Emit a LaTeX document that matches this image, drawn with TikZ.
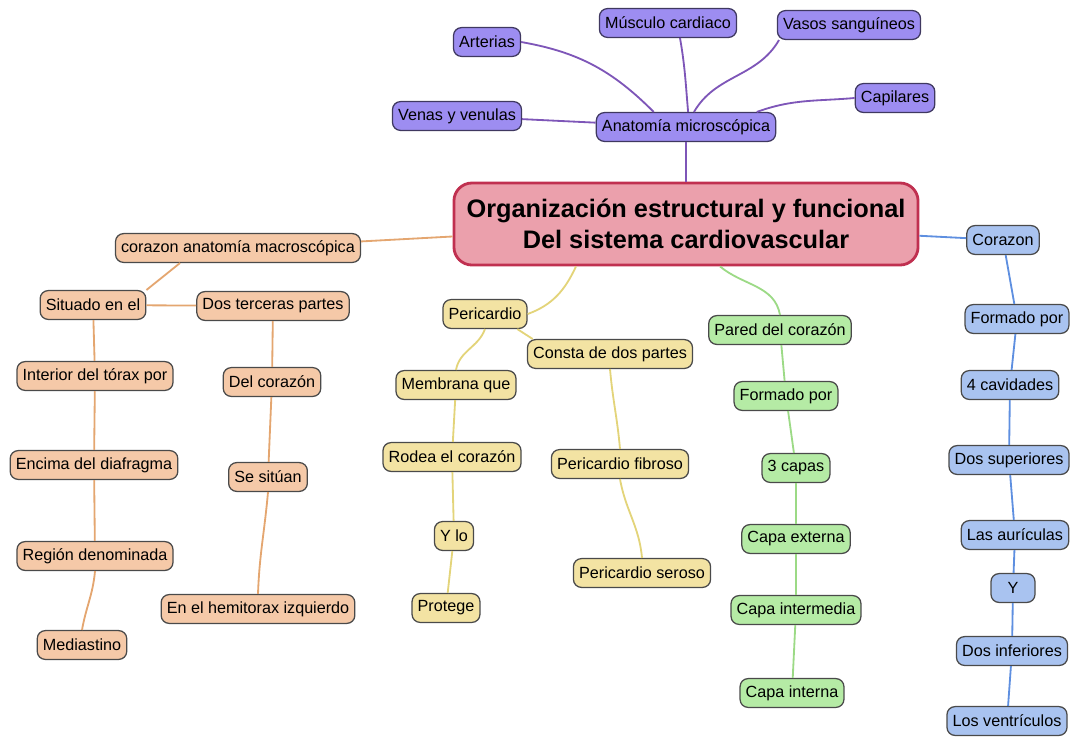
\documentclass[tikz,border=0pt]{standalone}
\usepackage{fontspec}
\setmainfont{Liberation Sans}
\usetikzlibrary{positioning}

\definecolor{purplefill}{HTML}{9D8DF1}
\definecolor{purpleline}{HTML}{7E56B8}
\definecolor{titlefill}{HTML}{EBA0AC}
\definecolor{titleline}{HTML}{C03050}
\definecolor{orangefill}{HTML}{F5C9A8}
\definecolor{orangeline}{HTML}{E4A670}
\definecolor{yellowfill}{HTML}{F3E3A3}
\definecolor{yellowline}{HTML}{E3D47A}
\definecolor{greenfill}{HTML}{B5EBA5}
\definecolor{greenline}{HTML}{9CDA86}
\definecolor{bluefill}{HTML}{A9C3F0}
\definecolor{blueline}{HTML}{5E8FE0}
\definecolor{boxline}{HTML}{4A4A4A}

\tikzset{
  topic/.style={draw=boxline, line width=0.9pt, rounded corners=0.2cm,
    minimum height=0.72cm, inner xsep=4pt, inner ysep=2pt,
    font=\fontsize{11.5}{13}\selectfont},
  purplebox/.style={topic, fill=purplefill, draw=purplefill!40!black},
  orangebox/.style={topic, fill=orangefill},
  yellowbox/.style={topic, fill=yellowfill},
  greenbox/.style={topic, fill=greenfill},
  bluebox/.style={topic, fill=bluefill},
  titlebox/.style={draw=titleline, fill=titlefill, line width=2pt,
    rounded corners=0.45cm, minimum width=11.6cm, minimum height=2.05cm,
    align=center, font=\fontsize{18}{22}\selectfont\bfseries},
  link/.style={line width=1.3pt}
}

\begin{document}
\begin{tikzpicture}[x=0.025cm,y=-0.025cm]
\useasboundingbox (0,0) rectangle (1073,738);

% centro
\node[titlebox] (title) at (686,224) {Organización estructural y funcional\\Del sistema cardiovascular};

% anatomia microscopica
\node[purplebox] (micro) at (686,127) {Anatomía microscópica};
\node[purplebox] (arterias) at (487,42) {Arterias};
\node[purplebox] (musculo) at (668,23) {Músculo cardiaco};
\node[purplebox] (vasos) at (849,25) {Vasos sanguíneos};
\node[purplebox] (capilares) at (895,98) {Capilares};
\node[purplebox] (venas) at (457,116) {Venas y venulas};

\draw[link,purpleline] (title) -- (micro);
\draw[link,purpleline] (arterias.east) to[out=-10,in=135] (micro.155);
\draw[link,purpleline] (musculo.south) ++(12,0) to[out=-80,in=95] (micro.82);
\draw[link,purpleline] (vasos.south) ++(-70,0) to[out=-120,in=60] (micro.62);
\draw[link,purpleline] (capilares.west) to[out=185,in=20] (micro.12);
\draw[link,purpleline] (venas) -- (micro);

% corazon anatomia macroscopica
\node[orangebox] (macro) at (238,248) {corazon anatomía macroscópica};
\node[orangebox] (situado) at (93,305) {Situado en el};
\node[orangebox] (terceras) at (273,306) {Dos terceras partes};
\node[orangebox] (interior) at (95,376) {Interior del tórax por};
\node[orangebox] (delcorazon) at (272,382) {Del corazón};
\node[orangebox] (encima) at (94,465) {Encima del diafragma};
\node[orangebox] (situan) at (268,477) {Se sitúan};
\node[orangebox] (region) at (95,556) {Región denominada};
\node[orangebox] (hemitorax) at (258,609) {En el hemitorax izquierdo};
\node[orangebox] (mediastino) at (82,645) {Mediastino};

\draw[link,orangeline] (title) -- (macro);
\draw[link,orangeline] (macro.south) ++(-58,0) -- (situado.north east);
\draw[link,orangeline] (situado) -- (terceras);
\foreach \a/\b in {situado/interior, interior/encima, encima/region,
                   terceras/delcorazon, delcorazon/situan}
  \draw[link,orangeline] (\a) -- (\b);
\draw[link,orangeline] (region.south) to[out=-95,in=80] (mediastino.north);
\draw[link,orangeline] (situan.south) to[out=-95,in=88] (hemitorax.north);

% pericardio
\node[yellowbox] (pericardio) at (485,314) {Pericardio};
\node[yellowbox] (consta) at (610,354) {Consta de dos partes};
\node[yellowbox] (membrana) at (456,385) {Membrana que};
\node[yellowbox] (rodea) at (452,457) {Rodea el corazón};
\node[yellowbox] (ylo) at (454,536) {Y lo};
\node[yellowbox] (protege) at (446,608) {Protege};
\node[yellowbox] (fibroso) at (620,464) {Pericardio fibroso};
\node[yellowbox] (seroso) at (642,573) {Pericardio seroso};

\draw[link,yellowline] (title.south) ++(-110,0) to[out=-115,in=20] (pericardio.east);
\draw[link,yellowline] (pericardio.-25) -- ([xshift=-55]consta.north);
\draw[link,yellowline] (pericardio.south) to[out=-110,in=80] (membrana.north);
\foreach \a/\b in {membrana/rodea, rodea/ylo, ylo/protege}
  \draw[link,yellowline] (\a) -- (\b);
\draw[link,yellowline] (consta.south) to[out=-85,in=95] (fibroso.north);
\draw[link,yellowline] (fibroso.south) to[out=-80,in=95] (seroso.north);

% pared del corazon
\node[greenbox] (pared) at (780,330) {Pared del corazón};
\node[greenbox] (formado) at (786,396) {Formado por};
\node[greenbox] (capas) at (796,468) {3 capas};
\node[greenbox] (externa) at (796,539) {Capa externa};
\node[greenbox] (intermedia) at (796,610) {Capa intermedia};
\node[greenbox] (interna) at (792,693) {Capa interna};

\draw[link,greenline] (title.south) ++(34,0) to[out=-40,in=100] (pared.north);
\foreach \a/\b in {pared/formado, formado/capas, capas/externa,
                   externa/intermedia, intermedia/interna}
  \draw[link,greenline] (\a) -- (\b);

% corazon
\node[bluebox] (corazon) at (1003,240) {Corazon};
\node[bluebox] (formadob) at (1017,319) {Formado por};
\node[bluebox] (cavidades) at (1010,385) {4 cavidades};
\node[bluebox] (superiores) at (1009,460) {Dos superiores};
\node[bluebox] (auriculas) at (1015,535) {Las aurículas};
\node[bluebox, minimum width=1.1cm] (ye) at (1013,588) {Y};
\node[bluebox] (inferiores) at (1012,651) {Dos inferiores};
\node[bluebox] (ventriculos) at (1007,721) {Los ventrículos};

\draw[link,blueline] (title) -- (corazon);
\foreach \a/\b in {corazon/formadob, formadob/cavidades, cavidades/superiores,
                   superiores/auriculas, auriculas/ye, ye/inferiores,
                   inferiores/ventriculos}
  \draw[link,blueline] (\a) -- (\b);

\end{tikzpicture}
\end{document}
